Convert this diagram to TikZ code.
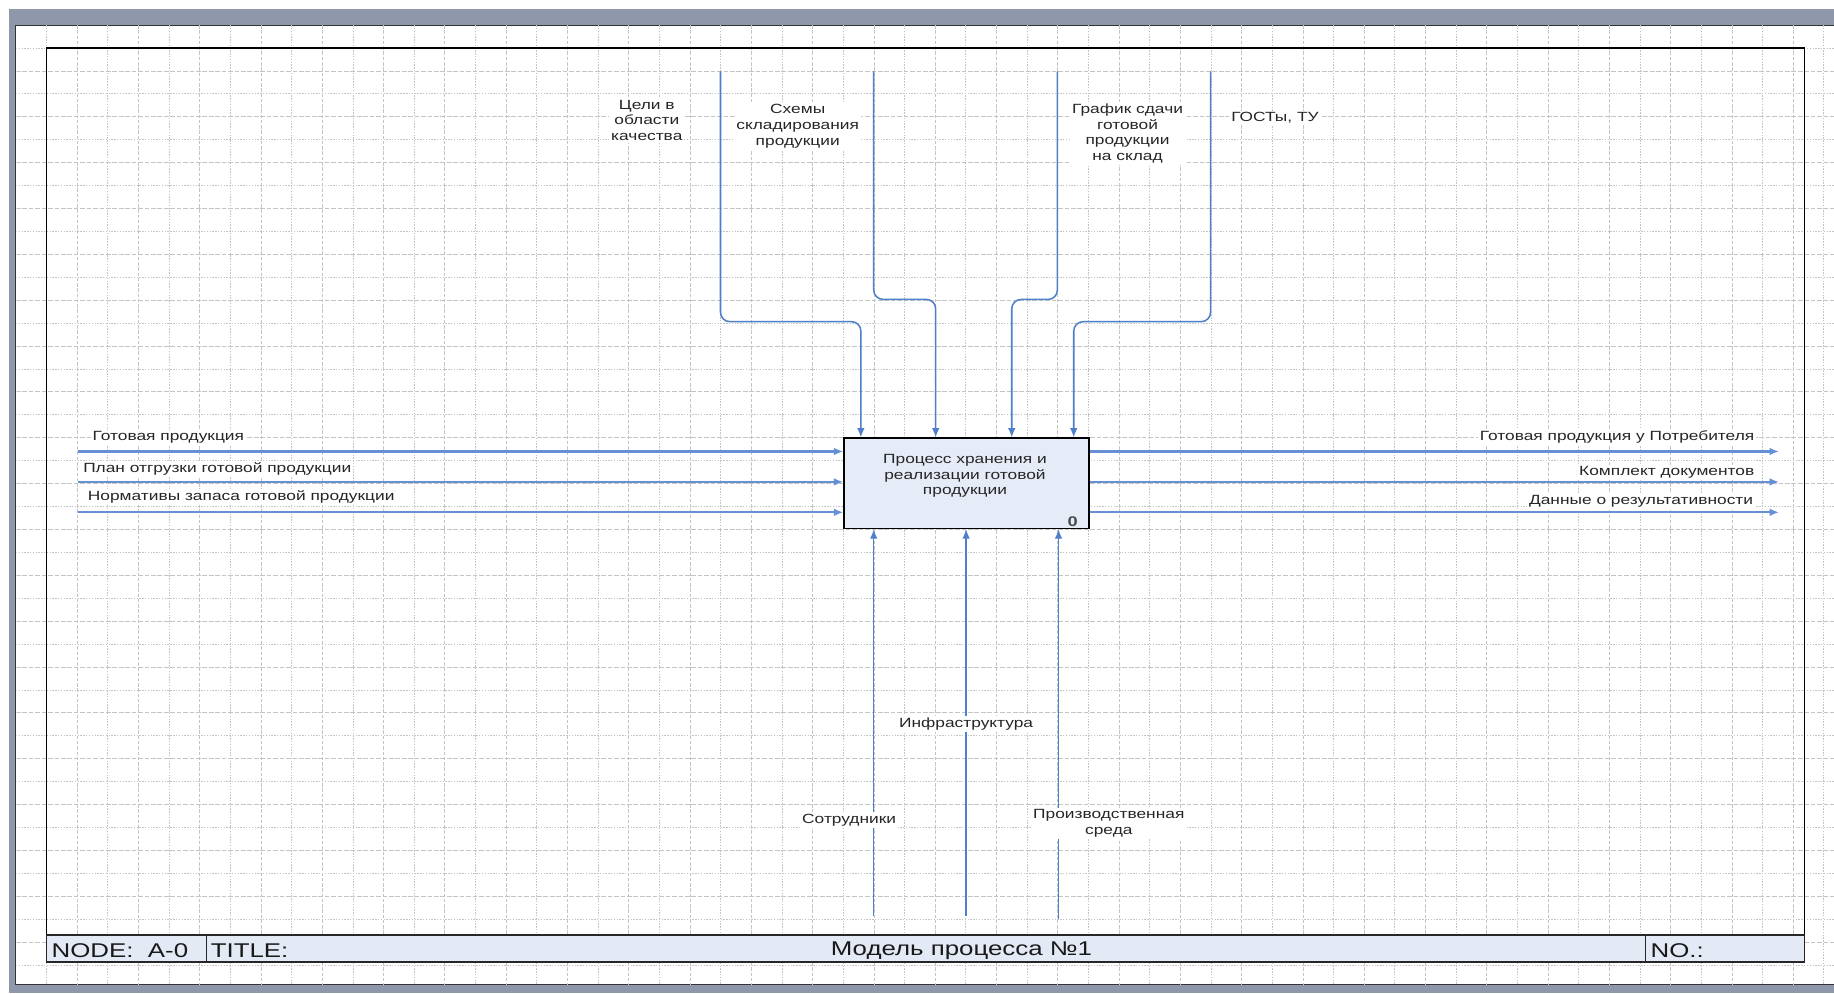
\documentclass[tikz,border=0pt]{standalone}
\usepackage{fontspec}
\setmainfont{Liberation Sans}[FakeStretch=1.3]
\usetikzlibrary{arrows.meta}
\definecolor{gridc}{HTML}{C4C4C4}
\definecolor{bandgray}{HTML}{8F98AB}
\definecolor{linkblue}{HTML}{4F7FCB}
\definecolor{ioblue}{HTML}{6590D5}
\definecolor{boxfill}{HTML}{E6ECF7}
\definecolor{barfill}{HTML}{E3EAF5}
\tikzset{
  gridline/.style={draw=gridc, line width=0.8pt},
  linkline/.style={draw=linkblue, line width=1.3pt, -{Latex[length=8pt,width=6.5pt]}},
  ioline/.style={draw=ioblue, line width=1.8pt, -{Latex[length=8pt,width=6.5pt]}},
  lbl/.style={fill=white, inner sep=1.5pt, font=\fontsize{11.4}{13.4}\selectfont, align=center, text=black!85, yshift=-2pt},
  titletext/.style={inner sep=0pt, font=\fontsize{17}{20}\selectfont, text=black!90, yshift=-2pt},
  funcbox/.style={draw=black, line width=1.5pt, fill=boxfill, minimum width=209pt, minimum height=77pt, inner sep=0pt}
}
\begin{document}
\begin{tikzpicture}[x=1pt,y=-1pt]
\useasboundingbox (0,0) rectangle (1568,849);
\fill[white] (0,0) rectangle (1568,849);
% page background and border bands
\fill[bandgray] (8,8) rectangle (1568,849);
\fill[white] (13.6,21.5) rectangle (1568,842);
\draw[black!80, line width=1pt] (1568,21.5) -- (13.6,21.5) -- (13.6,842) -- (1568,842);
% grid
\begin{scope}
\clip (14.2,22.1) rectangle (1568,841.4);
\foreach \k in {1,...,59} {
  \pgfmathsetmacro\xx{13.6+26.2*\k}
  \ifodd\k\relax
    \draw[gridline, dash pattern=on 1.2pt off 1.2pt] (\xx,21.5) -- (\xx,842);
  \else
    \draw[gridline, dash pattern=on 3pt off 1.5pt] (\xx,21.5) -- (\xx,842);
  \fi
}
\foreach \k in {1,...,41} {
  \pgfmathsetmacro\yy{21.5+19.6*\k}
  \ifodd\k\relax
    \draw[gridline, dash pattern=on 1.2pt off 1.2pt] (13.6,\yy) -- (1568,\yy);
  \else
    \draw[gridline, dash pattern=on 4pt off 1.5pt] (13.6,\yy) -- (1568,\yy);
  \fi
}
\end{scope}
% frame and title bar
\draw[black, line width=1.2pt] (39.8,41.1) rectangle (1543,822.6);
\draw[black!85, line width=1.2pt, fill=barfill] (39.8,799.5) rectangle (1543,822.6);
\draw[black!85, line width=1.2pt] (176.5,799.5) -- (176.5,822.6);
\draw[black!85, line width=1.2pt] (1407,799.5) -- (1407,822.6);
\node[titletext, anchor=west] (nodeid) at (44,811) {NODE:\ \ A-0};
\node[titletext, anchor=west] (titlelbl) at (180,811) {TITLE:};
\node[titletext] (titlename) at (822,811) {Модель процесса №1};
\node[titletext, anchor=west] (nolbl) at (1411,811) {NO.:};
% function box
\node[funcbox, anchor=north west] (box) at (721,374) {};
\node[lbl, fill=none] (boxtext) at (825,405) {Процесс хранения и\\реализации готовой\\продукции};
\node[lbl, fill=none, font=\fontsize{12}{13}\selectfont\bfseries, text=black!70] (boxnum) at (917,444) {0};
% inputs
\coordinate (i1) at (67,386);
\coordinate (i2) at (67,412);
\coordinate (i3) at (67,438);
\draw[ioline] (i1) -- (i1 -| box.west);
\draw[ioline] (i2) -- (i2 -| box.west);
\draw[ioline] (i3) -- (i3 -| box.west);
% outputs
\coordinate (o1) at (1521,386);
\coordinate (o2) at (1521,412);
\coordinate (o3) at (1521,438);
\draw[ioline] (o1 -| box.east) -- (o1);
\draw[ioline] (o2 -| box.east) -- (o2);
\draw[ioline] (o3 -| box.east) -- (o3);
% controls
\coordinate (c1) at (616,61);
\coordinate (c2) at (747,61);
\coordinate (c3) at (904,61);
\coordinate (c4) at (1035,61);
\draw[linkline, rounded corners=8pt] (c1) |- (736,275) -- (736,0 |- box.north);
\draw[linkline, rounded corners=8pt] (c2) |- (800,256) -- (800,0 |- box.north);
\draw[linkline, rounded corners=8pt] (c3) |- (865,256) -- (865,0 |- box.north);
\draw[linkline, rounded corners=8pt] (c4) |- (918,275) -- (918,0 |- box.north);
% mechanisms
\coordinate (m1) at (747,783);
\coordinate (m2) at (826,783);
\coordinate (m3) at (905,786);
\draw[linkline] (m1) -- (m1 |- box.south);
\draw[linkline] (m2) -- (m2 |- box.south);
\draw[linkline] (m3) -- (m3 |- box.south);
% labels
\node[lbl, anchor=west] (li1) at (77.5,372) {Готовая продукция};
\node[lbl, anchor=west] (li2) at (69.5,399) {План отгрузки готовой продукции};
\node[lbl, anchor=west] (li3) at (73.5,423) {Нормативы запаса готовой продукции};
\node[lbl, anchor=east] (lo1) at (1501.5,372) {Готовая продукция у Потребителя};
\node[lbl, anchor=east] (lo2) at (1501.5,402) {Комплект документов};
\node[lbl, anchor=east] (lo3) at (1500.5,427) {Данные о результативности};
\node[lbl] (lc1) at (553,101) {Цели в\\области\\качества};
\node[lbl] (lc2) at (682,106) {Схемы\\складирования\\продукции};
\node[lbl] (lc3) at (964,112) {График сдачи\\готовой\\продукции\\на склад};
\node[lbl] (lc4) at (1090,99) {ГОСТы, ТУ};
\node[lbl] (lm2) at (826,617) {Инфраструктура};
\node[lbl] (lm1) at (726,699) {Сотрудники};
\node[lbl] (lm3) at (948,702) {Производственная\\среда};
\end{tikzpicture}
\end{document}
